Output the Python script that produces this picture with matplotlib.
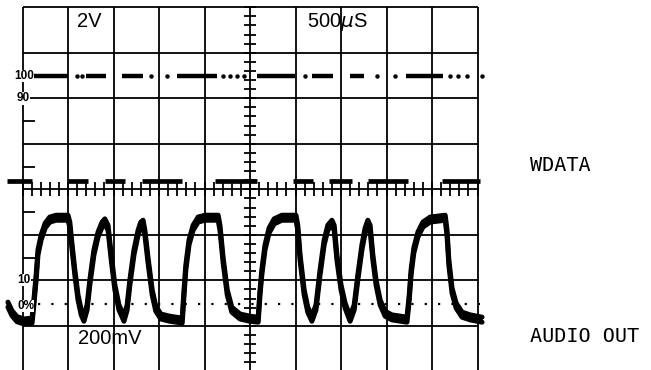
import numpy as np
import matplotlib.pyplot as plt

# scope screen, units are graticule divisions (x: 0..10, y: -4..4)
# WDATA trace, high level (100 line) and low level segments
wdata_high = 2.5
wdata_low = 0.18
high_start = [0.17, 1.40, 2.19, 3.40, 5.15, 6.36, 7.20, 8.43]
high_end = [1.00, 1.84, 2.65, 4.28, 5.99, 6.82, 7.51, 9.24]
high_dots = [1.20, 1.31, 2.82, 3.18, 4.41, 4.56, 4.71, 4.86, 6.21, 7.79, 8.19, 9.40, 9.58, 9.78, 10.10]
low_start = [-0.34, 1.00, 1.81, 2.63, 4.23, 5.95, 6.74, 7.59, 9.22]
low_end = [0.21, 1.44, 2.25, 3.51, 5.15, 6.38, 7.24, 8.47, 10.06]

# AUDIO OUT trace
audio_t = [-0.32, -0.23, -0.12, 0.03, 0.21,
           0.25, 0.30, 0.34, 0.41, 0.50, 0.60, 0.74, 1.00,
           1.04, 1.09, 1.15, 1.22, 1.29, 1.35,
           1.42, 1.48, 1.57, 1.66, 1.75, 1.81,
           1.88, 1.95, 2.03, 2.12, 2.23,
           2.30, 2.36, 2.45, 2.54, 2.60, 2.65,
           2.69, 2.76, 2.85, 2.93, 3.04, 3.24, 3.51,
           3.55, 3.59, 3.66, 3.75, 3.86, 4.01, 4.30,
           4.34, 4.41, 4.50, 4.60, 4.78, 5.00, 5.18,
           5.22, 5.26, 5.33, 5.42, 5.53, 5.70, 6.01,
           6.05, 6.10, 6.19, 6.27, 6.36,
           6.45, 6.54, 6.63, 6.71, 6.80,
           6.85, 6.91, 7.00, 7.09, 7.20,
           7.29, 7.37, 7.46, 7.53, 7.59,
           7.64, 7.70, 7.77, 7.86, 7.97, 8.12, 8.45,
           8.50, 8.54, 8.60, 8.69, 8.80, 8.96, 9.29,
           9.33, 9.37, 9.44, 9.53, 9.66, 9.84, 10.10]
audio_v = [-2.48, -2.67, -2.80, -2.85, -2.83,
           -2.43, -1.88, -1.33, -1.00, -0.74, -0.61, -0.57, -0.57,
           -0.72, -1.22, -1.77, -2.32, -2.65, -2.79,
           -2.54, -1.99, -1.33, -0.94, -0.72, -0.65,
           -0.79, -1.44, -2.10, -2.54, -2.79,
           -2.54, -1.99, -1.33, -0.90, -0.72, -0.68,
           -0.90, -1.51, -2.21, -2.57, -2.74, -2.79, -2.83,
           -2.21, -1.66, -1.11, -0.79, -0.61, -0.57, -0.57,
           -0.79, -1.51, -2.21, -2.59, -2.74, -2.79, -2.81,
           -2.21, -1.77, -1.22, -0.85, -0.65, -0.57, -0.57,
           -0.79, -1.44, -2.21, -2.59, -2.79,
           -2.54, -1.77, -1.11, -0.79, -0.68,
           -0.79, -1.44, -2.10, -2.50, -2.79,
           -2.54, -1.88, -1.22, -0.85, -0.68,
           -0.79, -1.44, -1.99, -2.43, -2.68, -2.76, -2.81,
           -2.32, -1.77, -1.29, -0.94, -0.72, -0.61, -0.57,
           -0.90, -1.55, -2.17, -2.50, -2.70, -2.76, -2.81]

fig = plt.figure(figsize=(6.51, 3.70), dpi=100)
ax = fig.add_axes([0, 0, 1, 1])
ax.set_xlim(-0.4945, 13.813)
ax.set_ylim(-3.971, 4.160)
ax.axis('off')

# graticule
ax.vlines(np.arange(0, 11), -4.2, 4.0, color='black', lw=1.3)
ax.hlines(np.arange(-4, 5), 0, 10, color='black', lw=1.3)
minor = np.arange(0, 10.01, 0.2)
ax.vlines(minor, -0.15, 0.15, color='black', lw=1.3)
ax.hlines(np.arange(-4, 4.01, 0.2), 4.86, 5.14, color='black', lw=1.3)
ax.hlines([1.5, 0.5, -0.5, -1.5], 0, 0.27, color='black', lw=1.3)
ax.hlines(-2.53, 0.35, 10.05, color='black', lw=1.6, linestyles=(0, (1, 5)))

# WDATA trace
ax.hlines([wdata_high] * len(high_start), high_start, high_end, color='black', lw=3.2)
ax.plot(high_dots, [wdata_high] * len(high_dots), 'o', color='black', ms=2.2)
ax.hlines([wdata_low] * len(low_start), low_start, low_end, color='black', lw=3.4)

# AUDIO OUT trace, smeared band between two passes
audio_lo = np.array(audio_v) - 0.11
ax.fill_between(audio_t, audio_v, audio_lo, color='black', lw=0)
ax.plot(audio_t, audio_v, color='black', lw=3.6, solid_joinstyle='round', solid_capstyle='round')
ax.plot(audio_t, audio_lo, color='black', lw=3.6, solid_joinstyle='round', solid_capstyle='round')

# screen labels
big = dict(family='Liberation Sans', fontsize=14.5, va='center', ha='left')
ax.text(1.20, 3.68, '2V', **big)
ax.text(6.25, 3.68, '500$\\mu$S', **big)
ax.text(1.22, -3.27, '200mV', **big)

small = dict(family='Liberation Sans', fontsize=8.5, weight='bold', va='center', ha='left',
             bbox=dict(facecolor='white', edgecolor='none', pad=0.2))
ax.text(-0.19, 2.49, '100', **small)
ax.text(-0.12, 2.0, '90', **small)
ax.text(-0.12, -1.99, '10', **small)
ax.text(-0.12, -2.56, '0%', **small)

side = dict(family='DejaVu Sans Mono', fontsize=14.5, va='center', ha='left')
ax.text(11.15, 0.52, 'WDATA', **side)
ax.text(11.15, -3.24, 'AUDIO OUT', **side)

plt.savefig('out.png', dpi=100)
